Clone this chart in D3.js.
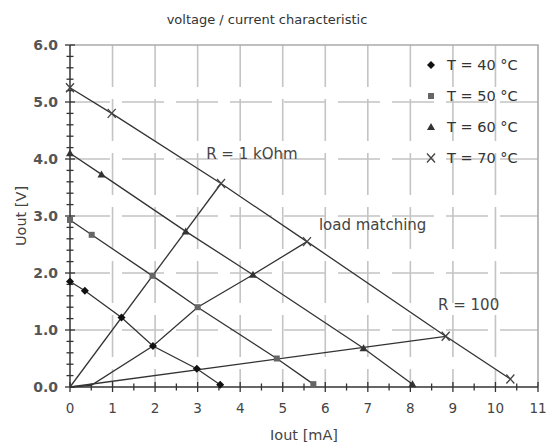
<!DOCTYPE html>
<html>
<head>
<meta charset="utf-8">
<script src="https://cdn.jsdelivr.net/npm/d3@7"></script>
<style>
  body { margin: 0; background: #fff; }
  text { font-family: "DejaVu Sans", Verdana, sans-serif; }
</style>
</head>
<body>
<div id="chart"></div>
<script>
// series: Iout [mA] and Uout [V]
const seriesNames = ["T = 40 °C", "T = 50 °C", "T = 60 °C", "T = 70 °C"];
const current40 = [0, 0.35, 1.21, 1.95, 2.98, 3.53];
const voltage40 = [1.85, 1.69, 1.22, 0.72, 0.32, 0.04];
const current50 = [0, 0.51, 1.94, 3.0, 4.86, 5.72];
const voltage50 = [2.93, 2.67, 1.95, 1.4, 0.5, 0.05];
const current60 = [0, 0.74, 2.72, 4.3, 6.9, 8.05];
const voltage60 = [4.1, 3.73, 2.73, 1.97, 0.68, 0.05];
const current70 = [0, 0.98, 3.55, 5.57, 8.83, 10.35];
const voltage70 = [5.25, 4.8, 3.57, 2.55, 0.89, 0.14];

// load lines
const loadNames = ["R = 1 kOhm", "load matching", "R = 100"];
const load1kI = [0, 3.55];
const load1kU = [0, 3.57];
const matchI = [0, 0.5, 1.95, 3.0, 4.3, 5.57];
const matchU = [0, 0.03, 0.72, 1.4, 1.97, 2.55];
const load100I = [0, 8.83];
const load100U = [0, 0.89];

const xTicks = [0, 1, 2, 3, 4, 5, 6, 7, 8, 9, 10, 11];
const yTicks = [0, 1, 2, 3, 4, 5, 6];

const width = 553, height = 447;
const pLeft = 70, pRight = 538, pTop = 45, pBottom = 387;

const x = d3.scaleLinear().domain([0, 11]).range([pLeft, pRight]);
const y = d3.scaleLinear().domain([0, 6]).range([pBottom, pTop]);

const svg = d3.select("#chart").append("svg")
  .attr("width", width)
  .attr("height", height);

// title
svg.append("text")
  .attr("x", 267).attr("y", 24)
  .attr("text-anchor", "middle")
  .attr("font-size", "13px")
  .attr("fill", "#333")
  .text("voltage / current characteristic");

// grid (dashed, light grey)
svg.append("g").selectAll("line")
  .data(xTicks.slice(1, -1))
  .enter().append("line")
  .attr("x1", d => x(d)).attr("x2", d => x(d))
  .attr("y1", pTop).attr("y2", pBottom)
  .attr("stroke", "#c4c4c4")
  .attr("stroke-width", 1.6)
  .attr("stroke-dasharray", "42,12");

svg.append("g").selectAll("line")
  .data(yTicks.slice(1, -1))
  .enter().append("line")
  .attr("x1", pLeft).attr("x2", pRight)
  .attr("y1", d => y(d)).attr("y2", d => y(d))
  .attr("stroke", "#c4c4c4")
  .attr("stroke-width", 1.6)
  .attr("stroke-dasharray", "42,12")
  .attr("stroke-dashoffset", 2);

// frame top / right
svg.append("path")
  .attr("d", `M${pLeft},${pTop}H${pRight}V${pBottom}`)
  .attr("fill", "none")
  .attr("stroke", "#aaa")
  .attr("stroke-width", 1.6);

// axes
const xAxis = svg.append("g");
xAxis.append("line")
  .attr("x1", pLeft).attr("x2", pRight)
  .attr("y1", pBottom).attr("y2", pBottom)
  .attr("stroke", "#333").attr("stroke-width", 1.5);
xAxis.selectAll(".minor")
  .data(d3.range(0, 11.01, 0.5))
  .enter().append("line")
  .attr("x1", d => x(d)).attr("x2", d => x(d))
  .attr("y1", d => pBottom - (d % 1 === 0 ? 5 : 3.5))
  .attr("y2", d => pBottom + (d % 1 === 0 ? 5 : 3.5))
  .attr("stroke", "#333").attr("stroke-width", 1.3);
xAxis.selectAll("text")
  .data(xTicks)
  .enter().append("text")
  .attr("x", d => x(d))
  .attr("y", pBottom + 26)
  .attr("text-anchor", "middle")
  .attr("font-size", "13.5px")
  .attr("fill", "#444")
  .text(d => d);

const yAxis = svg.append("g");
yAxis.append("line")
  .attr("x1", pLeft).attr("x2", pLeft)
  .attr("y1", pTop).attr("y2", pBottom)
  .attr("stroke", "#333").attr("stroke-width", 1.5);
yAxis.selectAll(".minor")
  .data(d3.range(0, 30.5, 1).map(d => d / 5))
  .enter().append("line")
  .attr("x1", d => pLeft - (Math.abs(d - Math.round(d)) < 1e-6 ? 5 : 3.5))
  .attr("x2", d => pLeft + (Math.abs(d - Math.round(d)) < 1e-6 ? 5 : 3.5))
  .attr("y1", d => y(d)).attr("y2", d => y(d))
  .attr("stroke", "#333").attr("stroke-width", 1.3);
yAxis.selectAll("text")
  .data(yTicks)
  .enter().append("text")
  .attr("x", pLeft - 12)
  .attr("y", d => y(d) + 5)
  .attr("text-anchor", "end")
  .attr("font-size", "14px")
  .attr("font-weight", "600")
  .attr("fill", "#555")
  .text(d => d.toFixed(1));

svg.append("text")
  .attr("x", x(5.5)).attr("y", 440)
  .attr("text-anchor", "middle")
  .attr("font-size", "14.5px")
  .attr("fill", "#444")
  .text("Iout [mA]");

svg.append("text")
  .attr("transform", `translate(26,${(pTop + pBottom) / 2}) rotate(-90)`)
  .attr("text-anchor", "middle")
  .attr("font-size", "14.5px")
  .attr("fill", "#444")
  .text("Uout [V]");

// lines
const line = d3.line().x(d => x(d[0])).y(d => y(d[1]));
const zip = (a, b) => a.map((v, i) => [v, b[i]]);

const loads = [zip(load1kI, load1kU), zip(matchI, matchU), zip(load100I, load100U)];
const series = [zip(current40, voltage40), zip(current50, voltage50),
                zip(current60, voltage60), zip(current70, voltage70)];

svg.append("g").selectAll("path")
  .data(loads.concat(series))
  .enter().append("path")
  .attr("d", line)
  .attr("fill", "none")
  .attr("stroke", "#333")
  .attr("stroke-width", 1.3);

// markers
function marker(g, k) {
  if (k === 0) {
    g.append("path").attr("d", "M0,-4L4,0L0,4L-4,0Z").attr("fill", "#111");
  } else if (k === 1) {
    g.append("rect").attr("x", -3).attr("y", -3).attr("width", 6).attr("height", 6)
      .attr("fill", "#666");
  } else if (k === 2) {
    g.append("path").attr("d", "M0,-4L4,3L-4,3Z").attr("fill", "#333");
  } else {
    g.append("path")
      .attr("d", "M-4,-4.5L4,4.5M-4,4.5L4,-4.5")
      .attr("stroke", "#444").attr("stroke-width", 1.3).attr("fill", "none");
  }
}

series.forEach((pts, k) => {
  svg.append("g").selectAll("g")
    .data(pts)
    .enter().append("g")
    .attr("transform", d => `translate(${x(d[0])},${y(d[1])})`)
    .each(function () { marker(d3.select(this), k); });
});

// legend
seriesNames.forEach((name, k) => {
  const ly = 65 + k * 31;
  const g = svg.append("g").attr("transform", `translate(431,${ly})`);
  marker(g, k);
  svg.append("text")
    .attr("x", 447).attr("y", ly + 5)
    .attr("font-size", "14.5px")
    .attr("fill", "#333")
    .text(name);
});

// load line labels
const labelPos = [[3.2, 4.0], [5.85, 2.75], [8.65, 1.35]];
loadNames.forEach((name, k) => {
  svg.append("text")
    .attr("x", x(labelPos[k][0]))
    .attr("y", y(labelPos[k][1]))
    .attr("font-size", "15px")
    .attr("fill", "#444")
    .text(name);
});
</script>
</body>
</html>
